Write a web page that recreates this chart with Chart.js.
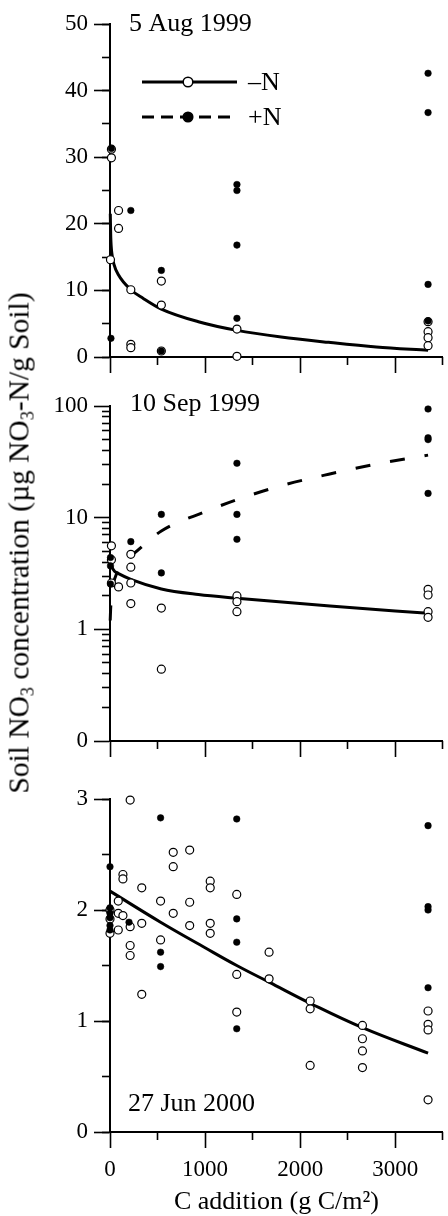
<!DOCTYPE html>
<html>
<head>
<meta charset="utf-8">
<script src="https://cdn.jsdelivr.net/npm/chart.js@4.4.1/dist/chart.umd.min.js"></script>
<style>
  body { margin: 0; background: #fff; overflow: hidden; }
  #wrap { position: relative; width: 448px; height: 1216px; overflow: hidden; background: #fff; }
  canvas { position: absolute; left: 0; }
  #yTitle {
    position: absolute; left: 19px; top: 543px;
    transform: translate(-50%, -50%) rotate(-90deg);
    white-space: nowrap; font-family: 'Liberation Serif', serif; font-size: 29.5px; color: #000;
  }
  #yTitle sub { font-size: 18px; vertical-align: -5px; line-height: 0; }
</style>
</head>
<body>
<div id="wrap">
  <canvas id="aug" width="448" height="380" style="top:0"></canvas>
  <canvas id="sep" width="448" height="390" style="top:380px"></canvas>
  <canvas id="jun" width="448" height="446" style="top:770px"></canvas>
  <div id="yTitle">Soil NO<sub>3</sub> concentration (µg NO<sub>3</sub>-N/g Soil)</div>
</div>
<script>
// ---- panel dates / legend / axis ----
const panelDates = ["5 Aug 1999", "10 Sep 1999", "27 Jun 2000"];
const legendLabels = ["\u2013N", "+N"];
const xTitle = "C addition (g C/m\u00B2)";
const xMajorTicks = [0, 1000, 2000, 3000];
const xMinorTicks = [500, 1500, 2500, 3500];

// ---- 5 Aug 1999 (linear) ----
const augOpenX = [15, 15, 5, 90, 90, 219, 219, 219, 540, 540, 540, 1335, 1335, 3345, 3345, 3345, 3345];
const augOpenY = [31.2, 29.9, 14.6, 22.0, 19.3, 10.1, 1.9, 1.4, 11.4, 7.8, 0.9, 4.2, 0.1, 5.3, 3.8, 2.9, 1.7];
const augFillX = [15, 10, 219, 540, 540, 1335, 1335, 1335, 1335, 3345, 3345, 3345, 3345];
const augFillY = [31.3, 2.8, 22.0, 13.0, 0.9, 25.9, 25.0, 16.8, 5.8, 42.6, 36.7, 10.9, 5.4];
const augFitX = [3, 8, 20, 40, 90, 219, 350, 540, 930, 1335, 1800, 2300, 2800, 3345];
const augFitY = [21.5, 18.0, 15.5, 14.0, 12.3, 10.1, 8.8, 7.2, 5.3, 4.0, 3.0, 2.2, 1.5, 1.0];

// ---- 10 Sep 1999 (log) ----
const sepOpenX = [15, 15, 15, 90, 219, 219, 219, 219, 540, 540, 1335, 1335, 1335, 3345, 3345, 3345, 3345];
const sepOpenY = [5.6, 4.2, 2.6, 2.4, 4.7, 3.6, 2.6, 1.7, 1.55, 0.44, 1.99, 1.77, 1.44, 2.28, 2.03, 1.44, 1.28];
const sepFillX = [5, 5, 5, 219, 540, 540, 1335, 1335, 1335, 3345, 3345, 3345, 3345];
const sepFillY = [4.4, 3.7, 2.55, 6.1, 10.7, 3.2, 30.7, 10.7, 6.4, 94, 52, 50, 16.5];
const sepFitMinusX = [3, 20, 50, 90, 219, 540, 930, 1335, 2314, 3345];
const sepFitMinusY = [4.0, 3.6, 3.3, 3.15, 2.8, 2.3, 2.05, 1.9, 1.62, 1.39];
const sepFitPlusX = [2, 8, 30, 80, 150, 240, 540, 1000, 1335, 1800, 2300, 2800, 3345];
const sepFitPlusY = [1.2, 1.6, 2.4, 3.3, 4.1, 4.7, 7.6, 11.3, 14.5, 19.3, 24.5, 30.2, 36.3];
const sepMajorTicks = [0.1, 1, 10, 100];
const sepTickLabels = ["0", "1", "10", "100"];
const sepMinorTicks = [0.2, 0.3, 0.4, 0.5, 0.6, 0.7, 0.8, 0.9, 2, 3, 4, 5, 6, 7, 8, 9, 20, 30, 40, 50, 60, 70, 80, 90];

// ---- 27 Jun 2000 (linear) ----
const junOpenX = [0, 0, 0, 87, 87, 87, 136, 136, 136, 212, 212, 212, 212, 334, 334, 334, 532, 532,
  665, 665, 665, 838, 838, 838, 1054, 1054, 1054, 1054, 1333, 1333, 1333, 1673, 1673,
  2105, 2105, 2105, 2655, 2655, 2655, 2655, 3345, 3345, 3345, 3345];
const junOpenY = [2.0, 1.92, 1.79, 2.08, 1.97, 1.82, 2.32, 2.28, 1.95, 2.99, 1.85, 1.68, 1.59, 2.2, 1.88, 1.24, 2.08, 1.73,
  2.52, 2.39, 1.97, 2.54, 2.07, 1.86, 2.26, 2.2, 1.88, 1.79, 2.14, 1.42, 1.08, 1.62, 1.38,
  1.18, 1.11, 0.6, 0.96, 0.84, 0.73, 0.58, 1.09, 0.97, 0.92, 0.29];
const junFillX = [0, 0, 0, 0, 0, 0, 200, 532, 532, 532, 1333, 1333, 1333, 1333, 3345, 3345, 3345, 3345];
const junFillY = [2.39, 2.02, 1.97, 1.93, 1.86, 1.82, 1.89, 2.83, 1.62, 1.49, 2.82, 1.92, 1.71, 0.93, 2.76, 2.03, 2.0, 1.3];
const junFitX = [0, 532, 1000, 1333, 1673, 2105, 2655, 3345];
const junFitY = [2.17, 1.89, 1.66, 1.5, 1.35, 1.16, 0.94, 0.71];

const FONT = "'Liberation Serif', 'Times New Roman', serif";
Chart.defaults.font.family = FONT;
Chart.defaults.color = "#000";

const pts = (xs, ys) => xs.map((x, i) => ({ x, y: ys[i] }));
const asTicks = (vals) => vals.map((v) => ({ value: v }));

function openSet(xs, ys) {
  return {
    data: pts(xs, ys), showLine: false, order: 1, clip: false,
    pointRadius: 4, pointBackgroundColor: "#fff", pointBorderColor: "#000", pointBorderWidth: 1.2,
  };
}

function filledSet(xs, ys) {
  return {
    data: pts(xs, ys), showLine: false, order: 0, clip: false,
    pointRadius: 3.3, pointBackgroundColor: "#000", pointBorderColor: "#000", pointBorderWidth: 0.5,
  };
}

function fitSet(xs, ys, dash, mono) {
  return {
    data: pts(xs, ys), showLine: true, order: 2, clip: false,
    borderColor: "#000", borderWidth: 3, borderDash: dash || [],
    pointRadius: 0, fill: false,
    cubicInterpolationMode: mono ? "monotone" : "default", tension: 0.4,
  };
}

const tickGrid = (len) => ({
  drawOnChartArea: false, tickLength: len, tickWidth: 1.6, tickColor: "#000",
});

function xScales(xHeight, withLabels) {
  return {
    x: {
      type: "linear", position: "bottom", min: 0, max: 3500, weight: 1,
      ticks: {
        display: withLabels, autoSkip: false, maxRotation: 0, padding: 8,
        font: { size: 23 }, callback: (v) => String(v),
      },
      afterBuildTicks: (s) => { s.ticks = asTicks(xMajorTicks); },
      grid: tickGrid(16),
      border: { color: "#000", width: 2 },
      title: {
        display: withLabels, text: xTitle, font: { size: 26, lineHeight: 1 },
        padding: { top: 0, bottom: 1 },
      },
      afterFit: (s) => { s.height = xHeight; s.paddingLeft = 0; s.paddingRight = 0; },
    },
    xMinor: {
      type: "linear", position: "bottom", min: 0, max: 3500, weight: 0,
      ticks: { display: false },
      afterBuildTicks: (s) => { s.ticks = asTicks(xMinorTicks); },
      grid: tickGrid(8),
      border: { display: false },
      afterFit: (s) => { s.height = 0; s.paddingLeft = 0; s.paddingRight = 0; },
    },
  };
}

function yScales(major, minor) {
  return {
    y: Object.assign({
      position: "left", weight: 1,
      grid: tickGrid(16),
      border: { color: "#000", width: 2 },
      afterFit: (s) => { s.width = 110; },
    }, major),
    yMinor: Object.assign({
      position: "left", weight: 0,
      grid: tickGrid(8),
      border: { display: false },
      afterFit: (s) => { s.width = 0; },
    }, minor),
  };
}

const yTickFont = { size: 23 };

// date label inside each panel
const dateLabelPlugin = {
  id: "dateLabel",
  afterDraw(chart, args, opts) {
    if (!opts.text) return;
    const { ctx, chartArea } = chart;
    ctx.save();
    ctx.font = "26px " + FONT;
    ctx.fillStyle = "#000";
    ctx.textBaseline = "alphabetic";
    const y = opts.fromBottom ? chartArea.bottom - opts.dy : chartArea.top + opts.dy;
    ctx.fillText(opts.text, chartArea.left + opts.dx, y);
    ctx.restore();
  },
};

// -N / +N key in the first panel
const keyPlugin = {
  id: "key",
  afterDraw(chart, args, opts) {
    if (!opts.show) return;
    const { ctx, chartArea } = chart;
    const x0 = chartArea.left + 32, x1 = chartArea.left + 127, xm = chartArea.left + 78;
    const rows = [chartArea.top + 58, chartArea.top + 93];
    ctx.save();
    ctx.strokeStyle = "#000";
    rows.forEach((y, i) => {
      ctx.lineWidth = 3;
      ctx.setLineDash(i === 0 ? [] : [12, 7]);
      ctx.beginPath();
      ctx.moveTo(x0, y);
      ctx.lineTo(x1, y);
      ctx.stroke();
      ctx.setLineDash([]);
      ctx.beginPath();
      ctx.arc(xm, y, 4.8, 0, Math.PI * 2);
      ctx.fillStyle = i === 0 ? "#fff" : "#000";
      ctx.fill();
      ctx.lineWidth = 1.5;
      ctx.stroke();
      ctx.fillStyle = "#000";
      ctx.font = "26px " + FONT;
      ctx.textBaseline = "middle";
      ctx.fillText(legendLabels[i], x1 + 11, y + 1);
    });
    ctx.restore();
  },
};

function basePlugins(date, key) {
  return {
    legend: { display: false },
    tooltip: { enabled: false },
    dateLabel: date,
    key: { show: !!key },
  };
}

new Chart(document.getElementById("aug"), {
  type: "scatter",
  data: {
    datasets: [
      fitSet(augFitX, augFitY, null, true),
      openSet(augOpenX, augOpenY),
      filledSet(augFillX, augFillY),
    ],
  },
  options: {
    responsive: false, animation: false, devicePixelRatio: 1,
    layout: { padding: { top: 24, right: 2, left: 0, bottom: 0 } },
    plugins: basePlugins({ text: panelDates[0], dx: 19, dy: 7 }, true),
    scales: Object.assign(
      xScales(23, false),
      yScales(
        { type: "linear", min: 0, max: 50, ticks: { stepSize: 10, padding: 6, font: yTickFont, autoSkip: false } },
        { type: "linear", min: 0, max: 50, ticks: { stepSize: 5, display: false } }
      )
    ),
  },
  plugins: [dateLabelPlugin, keyPlugin],
});

new Chart(document.getElementById("sep"), {
  type: "scatter",
  data: {
    datasets: [
      fitSet(sepFitPlusX, sepFitPlusY, [15, 20], true),
      fitSet(sepFitMinusX, sepFitMinusY, null, true),
      openSet(sepOpenX, sepOpenY),
      filledSet(sepFillX, sepFillY),
    ],
  },
  options: {
    responsive: false, animation: false, devicePixelRatio: 1,
    layout: { padding: { top: 26, right: 2, left: 0, bottom: 0 } },
    plugins: basePlugins({ text: panelDates[1], dx: 20, dy: 5 }, false),
    scales: Object.assign(
      xScales(29, false),
      yScales(
        {
          type: "logarithmic", min: 0.1, max: 100,
          ticks: { padding: 6, font: yTickFont, autoSkip: false, callback: (v, i) => sepTickLabels[i] },
          afterBuildTicks: (s) => { s.ticks = asTicks(sepMajorTicks); },
        },
        {
          type: "logarithmic", min: 0.1, max: 100,
          ticks: { display: false },
          afterBuildTicks: (s) => { s.ticks = asTicks(sepMinorTicks); },
        }
      )
    ),
  },
  plugins: [dateLabelPlugin],
});

new Chart(document.getElementById("jun"), {
  type: "scatter",
  data: {
    datasets: [
      fitSet(junFitX, junFitY),
      openSet(junOpenX, junOpenY),
      filledSet(junFillX, junFillY),
    ],
  },
  options: {
    responsive: false, animation: false, devicePixelRatio: 1,
    layout: { padding: { top: 29, right: 2, left: 0, bottom: 0 } },
    plugins: basePlugins({ text: panelDates[2], dx: 18, dy: 21, fromBottom: true }, false),
    scales: Object.assign(
      xScales(84, true),
      yScales(
        { type: "linear", min: 0, max: 3, ticks: { stepSize: 1, padding: 6, font: yTickFont, autoSkip: false } },
        { type: "linear", min: 0, max: 3, ticks: { stepSize: 0.5, display: false } }
      )
    ),
  },
  plugins: [dateLabelPlugin],
});
</script>
</body>
</html>
